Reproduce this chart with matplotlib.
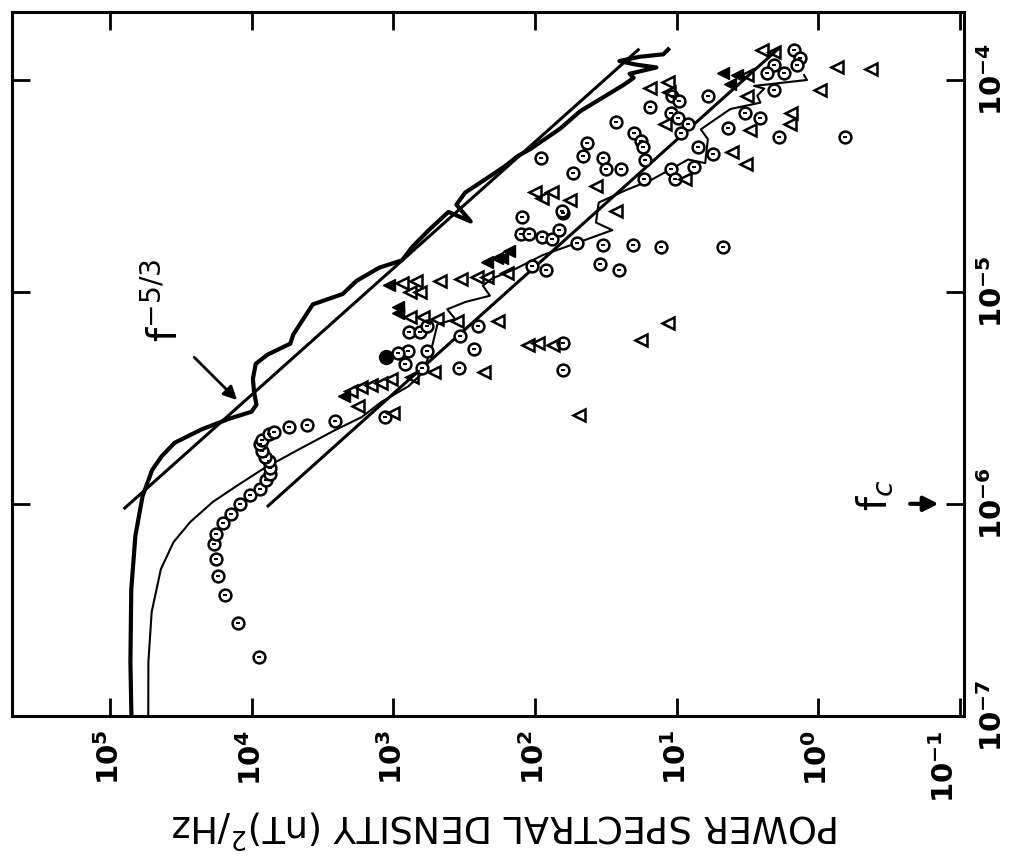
import numpy as np
import matplotlib.pyplot as plt

# all values are log10: psd in (nT)^2/Hz, freq in Hz

# thick wiggly spectrum
thick_psd = np.array([4.85, 4.857, 4.851, 4.822, 4.771, 4.703, 4.634, 4.544, 4.354, 4.164,
                      4.002, 3.967, 3.984, 3.992, 3.972, 3.889, 3.728, 3.707, 3.569, 3.358,
                      3.260, 3.100, 2.938, 2.868, 2.750, 2.611, 2.454, 2.555, 2.493, 2.352,
                      2.213, 2.122, 2.031, 1.821, 1.682, 1.373, 1.303, 1.332, 1.142, 1.284,
                      1.404, 1.263, 1.093, 1.059])
thick_f = np.array([-7.00, -6.746, -6.404, -6.151, -5.963, -5.840, -5.774, -5.712, -5.649, -5.600,
                    -5.566, -5.533, -5.472, -5.411, -5.340, -5.297, -5.245, -5.202, -5.060, -5.011,
                    -4.949, -4.887, -4.852, -4.790, -4.710, -4.624, -4.669, -4.590, -4.533, -4.471,
                    -4.409, -4.361, -4.327, -4.231, -4.150, -4.025, -3.992, -3.973, -3.943, -3.930,
                    -3.913, -3.893, -3.881, -3.858])

# thin spectrum
thin_psd = np.array([4.731, 4.730, 4.707, 4.642, 4.553, 4.435, 4.275, 4.114, 3.924, 3.644,
                     3.413, 3.223, 3.083, 2.894, 2.803, 2.735, 2.689, 2.563, 2.620, 2.493,
                     2.318, 2.368, 2.305, 2.130, 1.947, 1.736, 1.454, 1.569, 1.550, 1.360,
                     1.178, 0.918, 0.798, 0.779, 0.829, 0.620, 0.408, 0.430, 0.381, 0.453,
                     0.290, 0.079, 0.100])
thin_f = np.array([-7.00, -6.745, -6.510, -6.308, -6.181, -6.086, -5.991, -5.919, -5.837, -5.735,
                   -5.653, -5.591, -5.519, -5.446, -5.389, -5.281, -5.154, -5.129, -5.083, -5.049,
                   -5.019, -4.972, -4.939, -4.890, -4.828, -4.778, -4.710, -4.674, -4.580, -4.522,
                   -4.473, -4.377, -4.394, -4.281, -4.235, -4.139, -4.109, -4.076, -4.043, -4.030,
                   -4.018, -4.002, -3.979])

# f^-5/3 reference lines (end points)
upper_line_psd = np.array([4.897, 1.271])
upper_line_f = np.array([-6.020, -3.860])
lower_line_psd = np.array([3.885, 0.280])
lower_line_f = np.array([-6.010, -3.854])

# circles
circ_psd = np.array([3.95, 4.10, 4.19, 4.24, 4.25, 4.27, 4.25, 4.20, 4.15, 4.08,
                     4.01, 3.94, 3.90, 3.87, 3.87, 3.88, 3.91, 3.93, 3.94, 3.93,
                     3.88, 3.84, 3.74, 3.61, 3.41, 3.06, 1.96, 2.09, 2.10, 2.04,
                     1.95, 1.88, 1.92, 2.02, 2.40, 2.53, 2.43, 2.54, 2.76, 2.90,
                     2.97, 2.92, 2.80, 2.89, 2.81, 2.76, 1.83, 1.80, 1.80, 1.80,
                     1.73, 1.66, 1.63, 1.52, 1.50, 1.39, 1.43, 1.30, 1.25, 1.24,
                     1.22, 1.23, 1.04, 1.01, 1.19, 1.04, 0.99, 0.92, 0.97, 1.03,
                     0.98, 0.78, 0.52, 0.41, 0.64, 0.28, -0.19, 0.74, 0.88, 0.85,
                     0.31, 0.24, 0.36, 0.31, 0.17, 0.13, 0.15, 1.70, 1.52, 1.31,
                     1.11, 0.67, 1.54, 1.41, 1.81])
circ_f = np.array([-6.72, -6.56, -6.43, -6.34, -6.26, -6.19, -6.14, -6.09, -6.05, -6.00,
                   -5.96, -5.93, -5.89, -5.86, -5.83, -5.80, -5.78, -5.75, -5.72, -5.70,
                   -5.67, -5.66, -5.64, -5.63, -5.61, -5.59, -4.37, -4.65, -4.73, -4.73,
                   -4.74, -4.75, -4.90, -4.88, -5.16, -5.21, -5.27, -5.36, -5.28, -5.28,
                   -5.29, -5.34, -5.36, -5.19, -5.19, -5.16, -4.71, -4.63, -5.24, -5.37,
                   -4.44, -4.36, -4.30, -4.37, -4.42, -4.42, -4.20, -4.25, -4.29, -4.32,
                   -4.38, -4.47, -4.42, -4.47, -4.13, -4.16, -4.18, -4.21, -4.25, -4.08,
                   -4.10, -4.08, -4.16, -4.18, -4.23, -4.27, -4.27, -4.35, -4.41, -4.32,
                   -3.93, -3.97, -3.97, -4.05, -3.86, -3.90, -3.93, -4.77, -4.78, -4.78,
                   -4.79, -4.79, -4.87, -4.90, -4.62])
circ_filled_psd = np.array([3.05])
circ_filled_f = np.array([-5.31])

# triangles
tri_psd = np.array([2.00, 1.88, 1.95, 1.75, 1.57, 1.43, 2.20, 2.34, 2.41, 2.52,
                    2.67, 2.81, 2.84, 2.94, 2.88, 2.88, 2.79, 2.69, 2.55, 2.26,
                    2.71, 2.36, 2.05, 1.98, 1.87, 1.69, 3.25, 3.30, 3.23, 3.16,
                    3.09, 3.02, 2.87, 3.00, 1.19, 1.06, 1.05, 1.08, 0.48, 0.61,
                    0.51, 0.19, 0.20, -0.01, -0.13, -0.37, 0.40, 0.31, 0.50, 0.50,
                    0.94, 1.06, 1.25])
tri_f = np.array([-4.53, -4.53, -4.56, -4.57, -4.50, -4.62, -4.91, -4.93, -4.93, -4.94,
                  -4.95, -5.00, -4.95, -4.96, -5.00, -5.12, -5.12, -5.13, -5.14, -5.14,
                  -5.38, -5.38, -5.25, -5.24, -5.25, -5.58, -5.54, -5.47, -5.45, -5.44,
                  -5.43, -5.41, -5.40, -5.57, -4.04, -4.01, -4.06, -4.21, -4.24, -4.34,
                  -4.40, -4.16, -4.21, -4.05, -3.94, -3.95, -3.86, -3.87, -4.08, -3.98,
                  -4.47, -5.15, -5.23])
tri_filled_psd = np.array([2.18, 2.23, 2.27, 2.34, 3.03, 2.97, 2.97, 3.35, 0.67, 0.57, 0.62])
tri_filled_f = np.array([-4.81, -4.84, -4.84, -4.86, -4.97, -5.07, -5.10, -5.49, -3.97, -3.98, -4.02])

psd_ticks = np.arange(-1, 6)
freq_ticks = np.arange(-7, -3)

fig = plt.figure(figsize=(10.21, 8.67), dpi=100)
ax = fig.add_axes([0.0122, 0.1742, 0.932, 0.8114])
ax.set_xscale('log')
ax.set_yscale('log')

ax.plot(10**thick_psd, 10**thick_f, color='k', lw=3)
ax.plot(10**thin_psd, 10**thin_f, color='k', lw=1.5)
ax.plot(10**upper_line_psd, 10**upper_line_f, color='k', lw=2.2)
ax.plot(10**lower_line_psd, 10**lower_line_f, color='k', lw=2.2)

ax.plot(10**circ_psd, 10**circ_f, ls='none', marker='o', ms=8.5, mfc='white', mec='k', mew=1.8)
ax.plot(10**circ_psd, 10**circ_f, ls='none', marker='_', ms=3.5, mec='k', mew=1.4)
ax.plot(10**circ_filled_psd, 10**circ_filled_f, ls='none', marker='o', ms=10, mfc='k', mec='k')
ax.plot(10**tri_psd, 10**tri_f, ls='none', marker='<', ms=8, mfc='none', mec='k', mew=1.8)
ax.plot(10**tri_filled_psd, 10**tri_filled_f, ls='none', marker='<', ms=9, mfc='k', mec='k')

# annotations
ax.annotate('', xy=(10**4.09, 10**-5.52), xytext=(10**4.42, 10**-5.30),
            arrowprops=dict(arrowstyle='-|>', color='k', lw=2, mutation_scale=20))
ax.text(10**4.60, 10**-5.04, r'f$^{-5/3}$', rotation=90, fontsize=29,
        ha='center', va='center')
ax.annotate('', xy=(10**-0.87, 10**-6.0), xytext=(10**-0.63, 10**-6.0),
            arrowprops=dict(arrowstyle='-|>', color='k', lw=3, mutation_scale=22))
ax.text(10**-0.40, 10**-5.96, r'f$_c$', rotation=90, fontsize=29,
        ha='center', va='center')

ax.set_xlim(10**5.69, 10**-1.03)
ax.set_ylim(1e-7, 10**-3.684)

ax.xaxis.set_minor_locator(plt.NullLocator())
ax.yaxis.set_minor_locator(plt.NullLocator())
ax.set_xticks(10.0**psd_ticks)
ax.set_xticklabels([r'$\mathbf{10^{%d}}$' % e for e in psd_ticks], rotation=90)
ax.set_yticks(10.0**freq_ticks)
ax.set_yticklabels([r'$\mathbf{10^{%d}}$' % e for e in freq_ticks], rotation=90, va='center')
ax.tick_params(direction='in', length=13, width=2, top=True, right=True,
               labelleft=False, labelright=True, labelsize=21, pad=10)
# the 10^-1 label sits left of the corner, clear of 10^-7
ax.get_xticklabels()[0].set_ha('right')
for s in ax.spines.values():
    s.set_linewidth(2.2)

fig.text(0.495, 0.046, 'POWER SPECTRAL DENSITY (nT)$^2$/Hz', rotation=180,
         ha='center', va='center', fontsize=26.5)

fig.savefig('out.png', dpi=100)
